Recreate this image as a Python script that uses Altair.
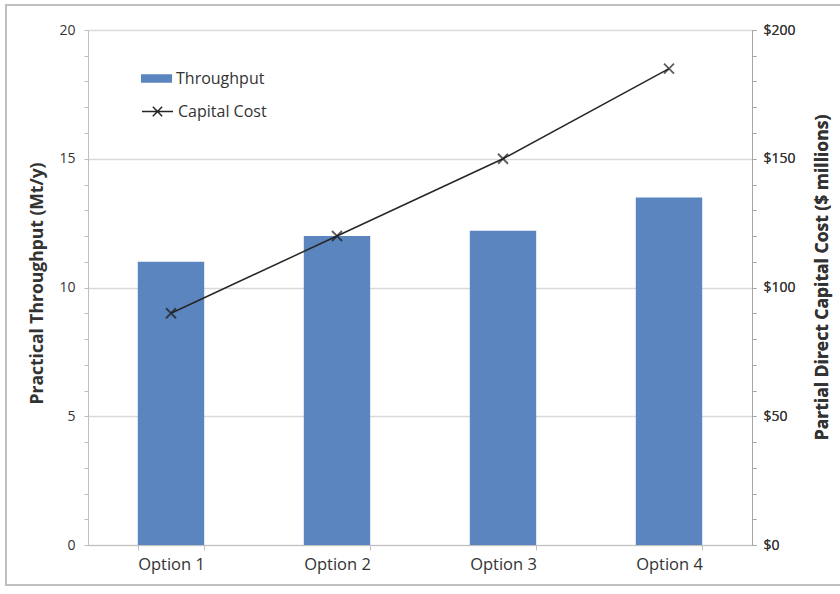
import altair as alt
import pandas as pd

options = ["Option 1", "Option 2", "Option 3", "Option 4"]
throughput = [11.0, 12.0, 12.2, 13.5]
capital_cost = [90, 120, 150, 185]

df = pd.DataFrame({
    "option": options,
    "throughput": throughput,
    "cost": capital_cost,
    "s1": ["Throughput"] * 4,
    "s2": ["Capital Cost"] * 4,
})

FONT = "Open Sans"
TXT = "#333333"
GRID = "#d9d9d9"
AX = "#bfbfbf"

xenc = alt.X(
    "option:N",
    sort=options,
    scale=alt.Scale(paddingInner=0.6, paddingOuter=0.3),
    axis=alt.Axis(
        title=None, labelAngle=0, tickBand="extent", domainColor=AX, tickColor=AX,
        tickSize=5, labelPadding=6, labelFontSize=16.5, labelColor=TXT, labelFont=FONT,
        grid=False,
    ),
)

bars = alt.Chart(df).mark_bar(color="#5B85BF").encode(
    x=xenc,
    y=alt.Y(
        "throughput:Q",
        scale=alt.Scale(domain=[0, 20], nice=False),
        axis=alt.Axis(
            title="Practical Throughput (Mt/y)",
            values=list(range(0, 21)),
            labelExpr="datum.value % 5 == 0 ? datum.label : ''",
            gridOpacity=alt.condition("datum.value % 5 == 0", alt.value(1), alt.value(0)),
            gridColor=GRID, gridWidth=1.5,
            domainColor=AX, tickColor=AX, tickSize=4, labelPadding=9,
            labelFontSize=14, labelColor=TXT, labelFont=FONT,
            titleFontSize=17.5, titleFontWeight="bold", titleColor=TXT, titleFont=FONT,
            titleAngle=270, titleX=-51, titleY=253, titleAlign="center",
            titleBaseline="middle",
        ),
    ),
    color=alt.Color(
        "s1:N",
        scale=alt.Scale(domain=["Throughput"], range=["#5B85BF"]),
        legend=alt.Legend(
            title=None, orient="none", legendX=58, legendY=38, padding=0,
            symbolType="M-1.5,-0.4H1.5V0.4H-1.5Z", symbolSize=430,
            symbolStrokeWidth=0, labelOffset=9, labelFontSize=16, labelColor=TXT,
            labelFont=FONT,
        ),
    ),
)

yright = alt.Y(
    "cost:Q",
    scale=alt.Scale(domain=[0, 200], nice=False),
    axis=alt.Axis(
        title="Partial Direct Capital Cost ($ millions)", orient="right",
        values=list(range(0, 201, 10)),
        labelExpr="datum.value % 50 == 0 ? '$' + datum.value : ''",
        grid=False, domainColor="#a6a6a6", tickColor="#a6a6a6", tickSize=4,
        labelPadding=7, labelFontSize=14, labelColor=TXT, labelFont=FONT,
        titleFontSize=17.5, titleFontWeight="bold", titleColor=TXT, titleFont=FONT,
        titleAngle=270, titleX=70, titleY=247, titleAlign="center",
        titleBaseline="middle",
    ),
)

line = alt.Chart(df).mark_line(strokeWidth=1.5).encode(
    x=xenc,
    y=yright,
    stroke=alt.Stroke(
        "s2:N",
        scale=alt.Scale(domain=["Capital Cost"], range=["#262626"]),
        legend=alt.Legend(
            title=None, orient="none", legendX=58, legendY=70, padding=0,
            symbolType="M-1.5,0H1.5M-0.45,-0.45L0.45,0.45M-0.45,0.45L0.45,-0.45",
            symbolSize=430, symbolStrokeWidth=1.5, labelOffset=9, labelFontSize=16,
            labelColor=TXT, labelFont=FONT,
        ),
    ),
)

points = alt.Chart(df).mark_point(
    shape="M-1,-1L1,1M-1,1L1,-1", size=100, filled=False, color="#1a1a1a", strokeWidth=1.8
).encode(x=xenc, y=yright)

frame = alt.Chart(pd.DataFrame({"a": [0]})).mark_rect(
    fill=None, stroke="#bfbfbf", strokeWidth=2, clip=False
).encode(
    x=alt.value(-82), x2=alt.value(780), y=alt.value(-25), y2=alt.value(555)
)

chart = alt.layer(
    frame, bars, line, points
).resolve_scale(
    y="independent"
).properties(
    width=664, height=515,
    autosize=alt.AutoSizeParams(type="none"),
    padding={"left": 88, "top": 30, "right": 88, "bottom": 49},
).configure_view(
    stroke=None
).configure(
    background="white"
)

chart.save("out.html", embed_options={"renderer": "svg", "actions": False})
